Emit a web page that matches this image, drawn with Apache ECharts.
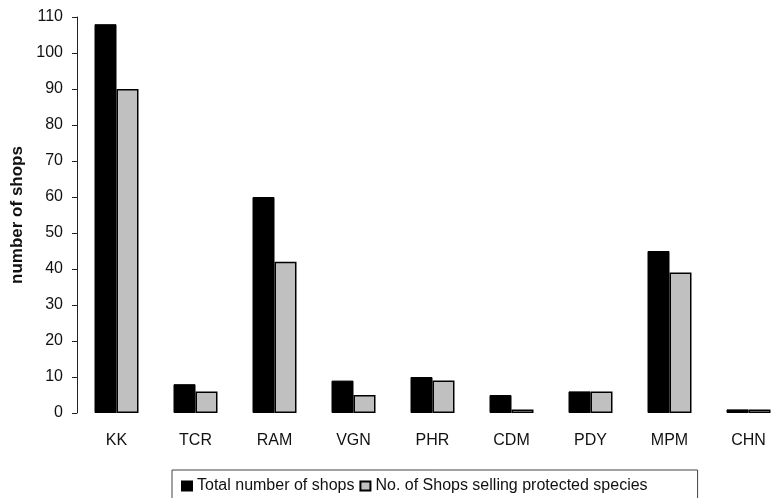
<!DOCTYPE html>
<html>
<head>
<meta charset="utf-8">
<script src="https://cdn.jsdelivr.net/npm/echarts@6/dist/echarts.min.js"></script>
<style>
  html, body { margin: 0; padding: 0; background: #fff; }
  #chart { width: 777px; height: 498px; }
</style>
</head>
<body>
<div id="chart"></div>
<script>
const categories = ['KK', 'TCR', 'RAM', 'VGN', 'PHR', 'CDM', 'PDY', 'MPM', 'CHN']
const totalShops = [108, 8, 60, 9, 10, 5, 6, 45, 1]
const protectedShops = [90, 6, 42, 5, 9, 1, 6, 39, 1]
const seriesNames = ['Total number of shops', 'No. of Shops selling protected species']

const font = 'Arial, "Liberation Sans", sans-serif'
const chart = echarts.init(document.getElementById('chart'))

const option = {
  backgroundColor: '#fff',
  animation: false,
  textStyle: { fontFamily: font },
  grid: { left: 77, right: -11, top: 17, bottom: 85, containLabel: false, outerBoundsMode: 'none' },
  legend: {
    left: 172,
    top: 470,
    padding: [8, 50, 40, 9],
    borderColor: '#444',
    borderWidth: 1,
    itemWidth: 10,
    itemHeight: 9,
    itemGap: 5,
    icon: 'rect',
    textStyle: { fontFamily: font, fontSize: 16, color: '#111' },
    data: seriesNames
  },
  xAxis: {
    type: 'category',
    data: categories,
    axisLine: { show: false },
    axisTick: { show: false },
    axisLabel: { fontFamily: font, fontSize: 16, color: '#111', margin: 20 }
  },
  yAxis: {
    type: 'value',
    min: 0,
    max: 110,
    interval: 10,
    name: 'number of shops',
    nameLocation: 'middle',
    nameGap: 51,
    nameTextStyle: { fontFamily: font, fontSize: 17, fontWeight: 'bold', color: '#111' },
    axisLine: { show: true, lineStyle: { color: '#222', width: 1 } },
    axisTick: { show: true, length: 5, lineStyle: { color: '#222' } },
    axisLabel: { fontFamily: font, fontSize: 16, color: '#111', margin: 14 },
    splitLine: { show: false }
  },
  series: [
    {
      name: seriesNames[0],
      type: 'bar',
      data: totalShops,
      barWidth: 22,
      barGap: '0%',
      itemStyle: { color: '#000', borderColor: '#000', borderWidth: 1 }
    },
    {
      name: seriesNames[1],
      type: 'bar',
      data: protectedShops,
      barWidth: 22,
      barGap: '0%',
      itemStyle: { color: '#c0c0c0', borderColor: '#000', borderWidth: 1.5 }
    }
  ]
}

chart.setOption(option)
</script>
</body>
</html>
